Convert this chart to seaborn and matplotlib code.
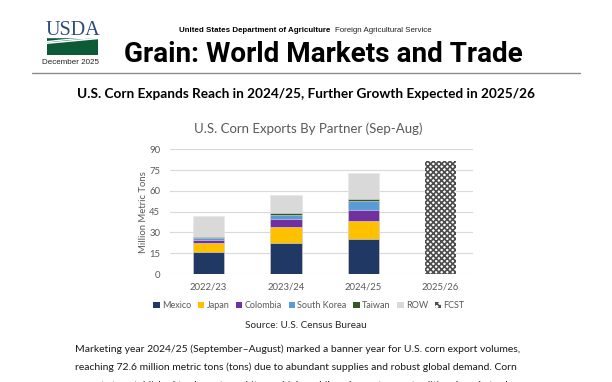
import numpy as np
import pandas as pd
import seaborn as sns
import matplotlib.pyplot as plt
from matplotlib.patches import Patch, Rectangle

# ---- data (million metric tons, Sep-Aug) ----
years = ["2022/23", "2023/24", "2024/25", "2025/26"]
actual_years = ["2022/23", "2023/24", "2024/25"]
partners = ["Mexico", "Japan", "Colombia", "South Korea", "Taiwan", "ROW"]
mexico = [15.6, 22.6, 25.0]
japan = [7.0, 11.1, 13.5]
colombia = [2.2, 6.2, 7.7]
south_korea = [0.9, 2.5, 6.5]
taiwan = [0.8, 1.4, 1.7]
row = [15.3, 13.2, 18.2]
fcst = [81.3]

colors = ["#1f3864", "#ffc000", "#7030a0", "#5b9bd5", "#375623", "#d9d9d9"]
grey = "#595959"

sns.set_theme(style="white")
plt.rcParams["font.family"] = ["Lato", "DejaVu Sans"]

df = pd.DataFrame({"year": actual_years, "Mexico": mexico, "Japan": japan,
                   "Colombia": colombia, "South Korea": south_korea,
                   "Taiwan": taiwan, "ROW": row})
cum = df[partners].cumsum(axis=1)

fig = plt.figure(figsize=(6.12, 3.82), dpi=100)
W, H = 612.0, 382.0

def fx(x):
    return x / W

def fy(y):
    return 1 - y / H

# ---- page header ----
fig.text(fx(72.5), fy(35), "USDA", family=["Liberation Serif"], fontsize=14.5,
         color="#2a4b7c", ha="center", va="baseline")
logo = fig.add_axes([fx(47), fy(55), fx(51), 19 / H])
logo.set_xlim(0, 1)
logo.set_ylim(0, 1)
logo.axis("off")
logo.add_patch(Rectangle((0, 0), 1, 1, color="#0d5a36"))
t = np.linspace(0, 1, 50)
logo.plot(t, 0.62 + 0.25 * t, color="white", lw=1.1)
logo.plot(t, 0.80 + 0.12 * t - 0.1 * (1 - t) ** 2, color="white", lw=1.0)
logo.fill_between(t, 0.95, 1.0, color="white")
fig.text(fx(71), fy(62), "December 2025", family=["Liberation Sans"],
         fontsize=5.8, color="#222222", ha="center", va="center")

fig.text(fx(179), fy(30), "United States Department of Agriculture",
         family=["Liberation Sans"], fontweight="bold", fontsize=5.7,
         color="black", va="center")
fig.text(fx(335), fy(30), "Foreign Agricultural Service",
         family=["Liberation Sans"], fontsize=5.7, color="#222222", va="center")
fig.text(fx(323.5), fy(61.5), "Grain: World Markets and Trade",
         family=["Roboto", "DejaVu Sans"], fontweight="bold", fontsize=20.1,
         color="black", ha="center", va="baseline")
fig.add_artist(plt.Line2D([fx(32), fx(580)], [fy(72.5), fy(72.5)],
                          color="#8c8c8c", lw=1.0))
fig.text(fx(306), fy(93.5), "U.S. Corn Expands Reach in 2024/25, Further Growth Expected in 2025/26",
         fontweight="bold", fontsize=9.8, color="black", ha="center", va="center")

# ---- chart ----
fig.text(fx(308), fy(129), "U.S. Corn Exports By Partner (Sep-Aug)",
         fontsize=9.5, color=grey, ha="center", va="center")

ax = fig.add_axes([fx(170), fy(274), fx(473) - fx(170), (274 - 149.3) / H])
for i in range(len(partners) - 1, -1, -1):
    sns.barplot(x=df["year"], y=cum[partners[i]], order=years, color=colors[i],
                width=0.405, saturation=1, edgecolor="#e6e6e6", linewidth=0.4,
                ax=ax, zorder=3)
plt.rcParams["hatch.linewidth"] = 1.2
sns.barplot(x=[years[3]], y=fcst, order=years, color="white", width=0.405,
            saturation=1, hatch="xxxxxx", edgecolor="#4d4d4d", linewidth=0,
            ax=ax, zorder=3)

ax.set_ylim(0, 90)
ax.set_xlim(-0.5, 3.42)
ax.set_yticks(range(0, 91, 15))
ax.yaxis.grid(True, color="#d9d9d9", lw=0.8, zorder=0)
ax.set_axisbelow(True)
for s in ax.spines.values():
    s.set_visible(False)
ax.tick_params(axis="both", length=0, labelsize=6.8, labelcolor=grey)
ax.tick_params(axis="y", pad=7)
ax.tick_params(axis="x", pad=6)
ax.set_xlabel("")
ax.set_ylabel("Million Metric Tons", fontsize=6.8, color=grey, labelpad=1)

handles = [Patch(facecolor=c, edgecolor="none", label=p) for p, c in zip(partners, colors)]
handles.append(Patch(facecolor="white", edgecolor="#4d4d4d", hatch="xxxxx",
                     linewidth=0, label="FCST"))
fig.legend(handles=handles, loc="center", bbox_to_anchor=(fx(309), fy(305.5)),
           ncol=7, frameon=False, fontsize=6.5, labelcolor=grey,
           handlelength=0.7, handleheight=0.7, handletextpad=0.25,
           columnspacing=0.75)

fig.text(fx(306), fy(326), "Source: U.S. Census Bureau", fontsize=7.2,
         color="#262626", ha="center", va="center")

# ---- body text (third line runs off the page bottom, as in the source) ----
body = [
    "Marketing year 2024/25 (September\u2013August) marked a banner year for U.S. corn export volumes,",
    "reaching 72.6 million metric tons (tons) due to abundant supplies and robust global demand. Corn",
    "exports to established trade partners hit new highs, while volumes to non-traditional markets also",
]
for k, line in enumerate(body):
    fig.text(fx(75), fy(352.5 + 17.7 * k), line, fontsize=7.5, color="#1a1a1a",
             va="baseline")

fig.savefig("out.png", dpi=100)
